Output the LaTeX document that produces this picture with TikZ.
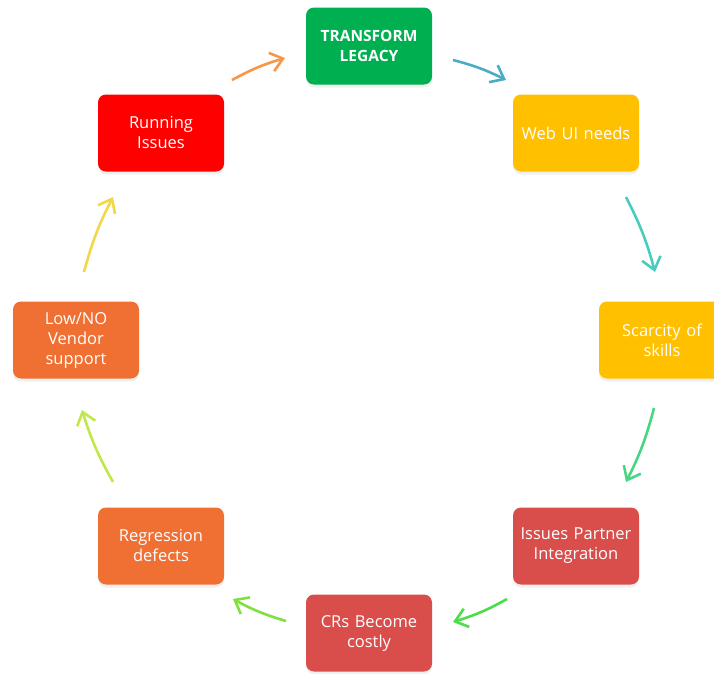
\documentclass[tikz,border=0pt]{standalone}
\usepackage{fontspec}
\setmainfont{Open Sans}
\usetikzlibrary{arrows.meta,shadows}
\definecolor{boxgreen}{RGB}{0,176,80}
\definecolor{boxyellow}{RGB}{255,192,0}
\definecolor{boxred}{RGB}{217,78,74}
\definecolor{boxorange}{RGB}{240,112,52}
\definecolor{boxbrightred}{RGB}{255,0,0}
\definecolor{arrowA}{RGB}{247,150,70}
\definecolor{arrowB}{RGB}{75,172,198}
\definecolor{arrowC}{RGB}{72,204,190}
\definecolor{arrowD}{RGB}{72,214,130}
\definecolor{arrowE}{RGB}{76,220,76}
\definecolor{arrowF}{RGB}{128,224,64}
\definecolor{arrowG}{RGB}{192,232,72}
\definecolor{arrowH}{RGB}{240,216,72}
\tikzset{
	stagebox/.style={rounded corners=8pt,minimum width=126pt,minimum height=77pt,text width=119pt,align=center,text=white,font=\fontsize{16.5}{20}\selectfont,drop shadow={shadow xshift=0pt,shadow yshift=-3pt,opacity=0.12}},
	cyclearrow/.style={line width=2.6pt,-{Straight Barb[length=12pt,width=19pt,line width=2.6pt]},bend left=6}
}
\begin{document}
	\begin{tikzpicture}[x=1pt,y=-1pt]
		\useasboundingbox (0,0) rectangle (714,673);
		\clip (0,0) rectangle (714,673);

		\coordinate (transformpos) at (369,46);
		\coordinate (webuipos) at (576,133);
		\coordinate (scarcitypos) at (662,340);
		\coordinate (partnerpos) at (576,546);
		\coordinate (costlypos) at (369,633);
		\coordinate (regressionpos) at (161,546);
		\coordinate (vendorpos) at (76,340);
		\coordinate (runningpos) at (161,133);

		\node[stagebox,fill=boxgreen,font=\fontsize{15.5}{20}\selectfont\bfseries] (transform) at (transformpos) {TRANSFORM\\LEGACY};
		\node[stagebox,fill=boxyellow] (webui) at (webuipos) {Web UI needs};
		\node[stagebox,fill=boxyellow] (scarcity) at (scarcitypos) {Scarcity of\\skills};
		\node[stagebox,fill=boxred] (partner) at (partnerpos) {Issues Partner\\Integration};
		\node[stagebox,fill=boxred] (costly) at (costlypos) {CRs Become\\costly};
		\node[stagebox,fill=boxorange] (regression) at (regressionpos) {Regression\\defects};
		\node[stagebox,fill=boxorange] (vendor) at (vendorpos) {Low/NO\\Vendor\\support};
		\node[stagebox,fill=boxbrightred] (running) at (runningpos) {Running\\Issues};

		\coordinate (runningout) at (232,80);
		\coordinate (transformin) at (285,58);
		\coordinate (transformout) at (453,60);
		\coordinate (webuiin) at (506,80);
		\coordinate (webuiout) at (626,197);
		\coordinate (scarcityin) at (655,272);
		\coordinate (scarcityout) at (654,408);
		\coordinate (partnerin) at (626,482);
		\coordinate (partnerout) at (507,599);
		\coordinate (costlyin) at (453,622);
		\coordinate (costlyout) at (286,621);
		\coordinate (regressionin) at (233,599);
		\coordinate (regressionout) at (113,482);
		\coordinate (vendorin) at (82,410);
		\coordinate (vendorout) at (84,272);
		\coordinate (runningin) at (113,197);

		\draw[cyclearrow,arrowA] (runningout) to (transformin);
		\draw[cyclearrow,arrowB] (transformout) to (webuiin);
		\draw[cyclearrow,arrowC] (webuiout) to (scarcityin);
		\draw[cyclearrow,arrowD] (scarcityout) to (partnerin);
		\draw[cyclearrow,arrowE] (partnerout) to (costlyin);
		\draw[cyclearrow,arrowF] (costlyout) to (regressionin);
		\draw[cyclearrow,arrowG] (regressionout) to (vendorin);
		\draw[cyclearrow,arrowH] (vendorout) to (runningin);
	\end{tikzpicture}
\end{document}
